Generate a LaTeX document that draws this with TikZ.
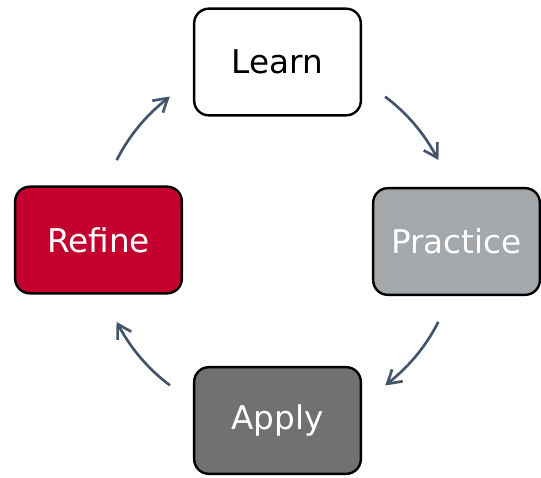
\documentclass[tikz,border=0pt]{standalone}
\usepackage{fontspec}
\setmainfont{DejaVu Sans}
\usetikzlibrary{arrows.meta,bending,calc}
\definecolor{arrc}{HTML}{44546A}
\definecolor{refc}{HTML}{C4002F}
\definecolor{prac}{HTML}{A5A8AB}
\definecolor{appc}{HTML}{717171}
\begin{document}
\begin{tikzpicture}[x=0.75pt,y=-0.75pt,
  box/.style={draw=black,line width=1.8pt,rounded corners=11pt,minimum width=125pt,minimum height=80pt,inner sep=0pt,font=\fontsize{24.5}{28}\selectfont},
  arr/.style={draw=arrc,line width=2pt,-{Straight Barb[length=10pt,width=12pt,bend]}}]
\useasboundingbox (0,0) rectangle (541,477);
\node[box,fill=white,text=black] (learn) at (277.5,62) {Learn};
\node[box,fill=prac,text=white] (practice) at (456.5,241.5) {Practice};
\node[box,fill=appc,text=white] (apply) at (277.5,420.5) {Apply};
\node[box,fill=refc,text=white] (refine) at (98.5,240) {Refine};
\coordinate (c) at (277.5,241);
\coordinate (a1) at ($(c)+(53.3:135pt)$);
\coordinate (a2) at ($(c)+(-26.7:135pt)$);
\coordinate (a3) at ($(c)+(-126.7:135pt)$);
\coordinate (a4) at ($(c)+(153.3:135pt)$);
\draw[arr] (a1) arc[start angle=53.3,end angle=26.7,radius=135pt];
\draw[arr] (a2) arc[start angle=-26.7,end angle=-53.3,radius=135pt];
\draw[arr] (a3) arc[start angle=-126.7,end angle=-153.3,radius=135pt];
\draw[arr] (a4) arc[start angle=153.3,end angle=126.7,radius=135pt];
\end{tikzpicture}
\end{document}
